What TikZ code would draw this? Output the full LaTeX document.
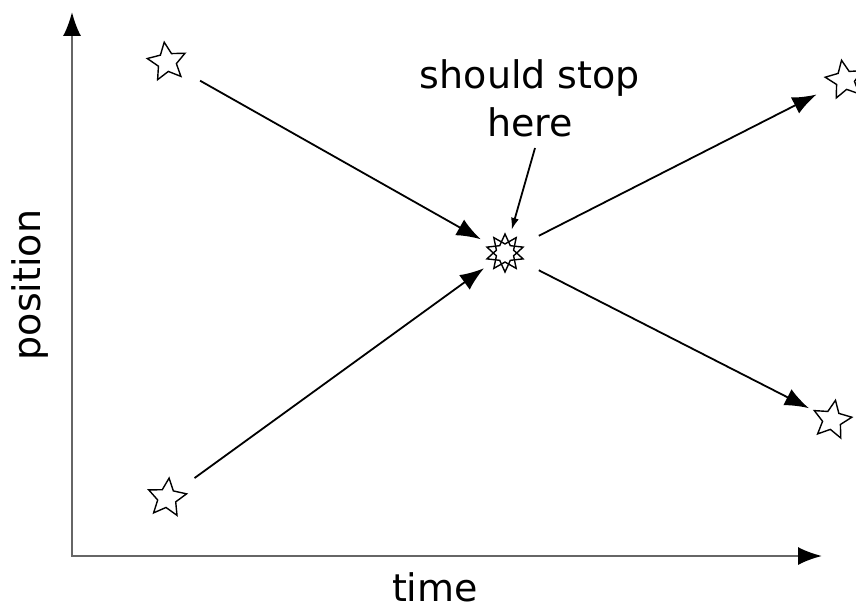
\documentclass[tikz,border=0pt]{standalone}
\usepackage{fontspec}
\setmainfont{DejaVu Sans}
\usetikzlibrary{shapes.geometric,arrows.meta}

\begin{document}
\begin{tikzpicture}[
  x=0.5pt, y=-0.5pt,
  font=\fontsize{19}{24}\selectfont,
  starnode/.style={draw, star, star points=5, star point ratio=2.1, minimum size=20pt, inner sep=0pt, line width=0.7pt, fill=white},
  axis/.style={{Latex[length=12pt,width=9pt,black]}-{Latex[length=12pt,width=9pt,black]}, line width=1pt, draw=black!60},
  ra/.style={-{Latex[length=12pt,width=9pt]}, line width=0.9pt},
  la/.style={-{Latex[length=6pt,width=4pt]}, line width=0.9pt}
]
\useasboundingbox (0,0) rectangle (856,610);
% axes
\coordinate (ytop) at (72,12);
\coordinate (xend) at (822,556);
\draw[axis] (ytop) |- (xend);
\node[rotate=90] (ylab) at (30,285) {position};
\node (xlab) at (435,587) {time};
% stars
\node[starnode, rotate=8] (tl) at (167,62) {};
\node[starnode, rotate=-6] (bl) at (167,498) {};
\node[starnode, rotate=10] (tr) at (845,80) {};
\node[starnode, rotate=-10] (br) at (832,420) {};
\node[starnode, minimum size=19pt, rotate=0] (mid) at (505,253) {};
\node[starnode, minimum size=19pt, rotate=36, fill=none] (mid2) at (505,253) {};
% trajectories
\draw[ra, shorten <=19pt, shorten >=14pt] (tl.center) -- (mid.center);
\draw[ra, shorten <=17pt, shorten >=13pt] (bl.center) -- (mid.center);
\draw[ra, shorten <=19pt, shorten >=16pt] (mid.center) -- (tr.center);
\draw[ra, shorten <=19pt, shorten >=13pt] (mid.center) -- (br.center);
% label
\node[align=center] (lbl) at (530,98) {should stop\\here};
\coordinate (lbltip) at (535,148);
\draw[la, shorten >=12pt] (lbltip) -- (mid.center);
\end{tikzpicture}
\end{document}
